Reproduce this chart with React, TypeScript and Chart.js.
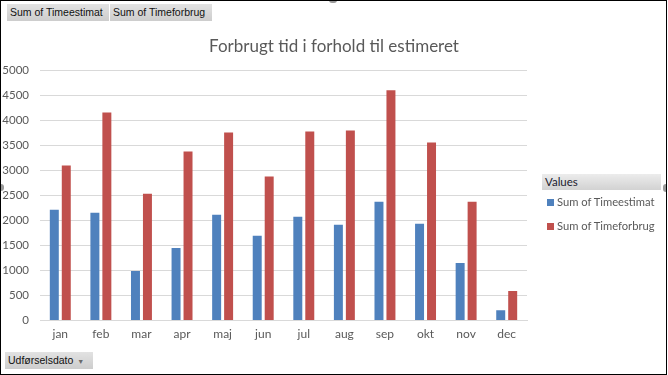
import React, { useEffect, useRef } from 'react';
import { Chart, registerables } from 'chart.js';

Chart.register(...registerables);

const categories = ['jan', 'feb', 'mar', 'apr', 'maj', 'jun', 'jul', 'aug', 'sep', 'okt', 'nov', 'dec'];
const timeestimat = [2215, 2155, 990, 1450, 2115, 1695, 2075, 1915, 2375, 1935, 1150, 205];
const timeforbrug = [3100, 4160, 2535, 3380, 3760, 2880, 3780, 3800, 4605, 3560, 2375, 590];
const seriesNames = ['Sum of Timeestimat', 'Sum of Timeforbrug'];
const seriesColors = ['#4F81BD', '#C0504D'];
const chartTitle = 'Forbrugt tid i forhold til estimeret';
const legendTitle = 'Values';
const fieldButton = 'Udførselsdato';
const yMin = 0;
const yMax = 5000;
const yStep = 500;

const FONT = 'Lato, "Open Sans", sans-serif';
const UI_FONT = '"Liberation Sans", Arial, sans-serif';

const btnStyle: React.CSSProperties = {
  position: 'absolute',
  height: 17,
  boxSizing: 'border-box',
  background: 'linear-gradient(to bottom, #e2e2e2, #cdcdcd)',
  fontFamily: UI_FONT,
  fontSize: 10.5,
  color: '#111',
  lineHeight: '17px',
  paddingLeft: 3,
  whiteSpace: 'nowrap',
};

export default function App() {
  const ref = useRef<HTMLCanvasElement>(null);

  useEffect(() => {
    document.body.style.margin = '0';
    const chart = new Chart(ref.current!, {
      type: 'bar',
      data: {
        labels: categories,
        datasets: [
          {
            label: seriesNames[0],
            data: timeestimat,
            backgroundColor: seriesColors[0],
            borderWidth: 0,
            categoryPercentage: 0.59,
            barPercentage: 0.75,
          },
          {
            label: seriesNames[1],
            data: timeforbrug,
            backgroundColor: seriesColors[1],
            borderWidth: 0,
            categoryPercentage: 0.59,
            barPercentage: 0.75,
          },
        ],
      },
      options: {
        animation: false,
        responsive: false,
        maintainAspectRatio: false,
        layout: { padding: { left: 0, right: 0, top: 0, bottom: 28 } },
        plugins: {
          legend: { display: false },
          tooltip: { enabled: false },
          title: {
            display: true,
            text: chartTitle,
            color: '#595959',
            font: { family: FONT, size: 17, weight: 'normal' },
            padding: { top: 36, bottom: 14 },
          },
        },
        scales: {
          x: {
            grid: { display: false, drawTicks: false },
            border: { display: true, color: '#d9d9d9' },
            ticks: { color: '#595959', font: { family: FONT, size: 12 }, padding: 6 },
          },
          y: {
            min: yMin,
            max: yMax,
            ticks: {
              stepSize: yStep,
              color: '#595959',
              font: { family: FONT, size: 11.5 },
              padding: 11,
              callback: (v: any) => String(v),
            },
            grid: { color: '#d9d9d9', drawTicks: false },
            border: { display: false },
            afterFit: (s: any) => {
              s.width = 40;
            },
          },
          yr: {
            type: 'linear',
            position: 'right',
            display: true,
            grid: { display: false, drawTicks: false },
            ticks: { display: false },
            border: { display: false },
            afterFit: (s: any) => {
              s.width = 141;
            },
          },
        },
      } as any,
    });
    return () => chart.destroy();
  }, []);

  return (
    <div style={{ position: 'absolute', left: 0, top: 0, width: 668, height: 375, background: '#fff', overflow: 'hidden' }}>
      <canvas ref={ref} width={668} height={375} style={{ position: 'absolute', left: 0, top: 0, width: 668, height: 375 }} />
      <div style={{ ...btnStyle, left: 7, top: 4, width: 102 }}>{seriesNames[0]}</div>
      <div style={{ ...btnStyle, left: 110, top: 4, width: 102 }}>{seriesNames[1]}</div>
      <div style={{ ...btnStyle, left: 5, top: 352, width: 88 }}>
        {fieldButton}
        <span style={{ fontSize: 7, color: '#6a6a6a', marginLeft: 4, verticalAlign: 'middle' }}>▼</span>
      </div>
      <div
        style={{
          position: 'absolute',
          left: 542,
          top: 174,
          width: 119,
          height: 16,
          background: 'linear-gradient(to bottom, #ececec, #d2d2d2)',
          fontFamily: FONT,
          fontSize: 11.5,
          color: '#1b1b2f',
          lineHeight: '16px',
          paddingLeft: 3,
          boxSizing: 'border-box',
        }}
      >
        {legendTitle}
      </div>
      {seriesNames.map((name, i) => (
        <div key={name} style={{ position: 'absolute', left: 547, top: 194 + i * 24, height: 16, whiteSpace: 'nowrap' }}>
          <span style={{ position: 'absolute', left: 0, top: 5, width: 7, height: 7, background: seriesColors[i] }} />
          <span style={{ position: 'absolute', left: 10, top: 0, fontFamily: FONT, fontSize: 11.2, color: '#595959', lineHeight: '16px' }}>
            {name}
          </span>
        </div>
      ))}
      <div style={{ position: 'absolute', left: 329, top: 0, width: 8, height: 3, borderRadius: '0 0 4px 4px', background: '#9a9a9a' }} />
      <div style={{ position: 'absolute', left: 1, top: 184, width: 3, height: 7, borderRadius: '0 4px 4px 0', background: '#9a9a9a' }} />
      <div style={{ position: 'absolute', left: 663, top: 184, width: 3, height: 8, borderRadius: '4px 0 0 4px', background: '#9a9a9a' }} />
      <div style={{ position: 'absolute', left: 0, top: 0, width: 667, height: 375, boxSizing: 'border-box', border: '1px solid #000', pointerEvents: 'none' }} />
    </div>
  );
}
